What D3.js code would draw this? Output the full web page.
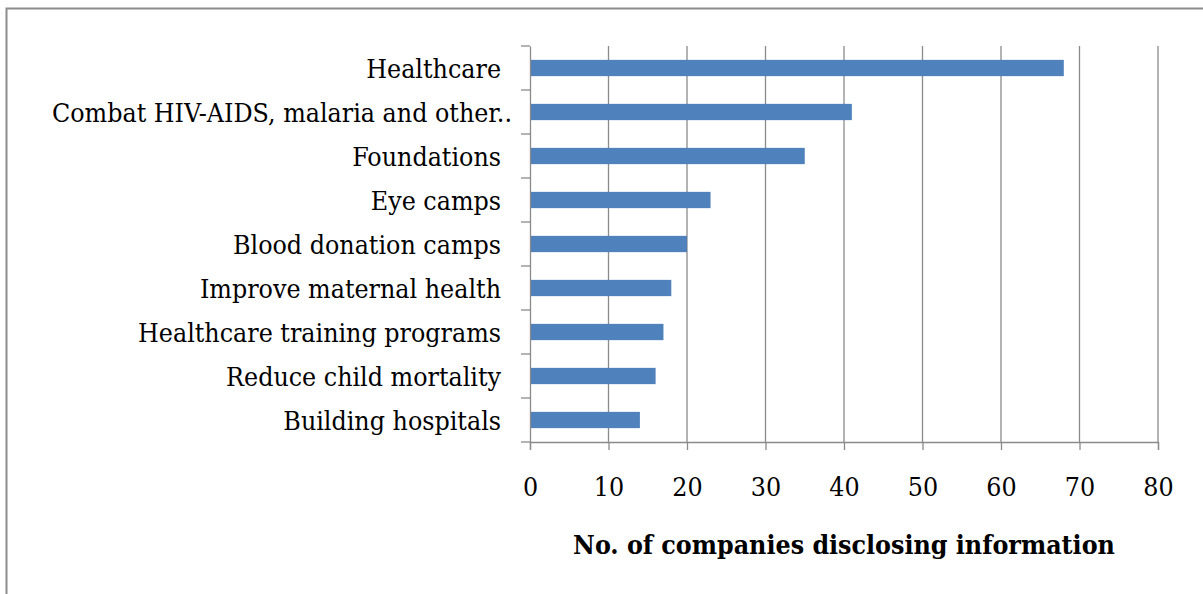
<!DOCTYPE html>
<html>
<head>
<meta charset="utf-8">
<script src="https://cdn.jsdelivr.net/npm/d3@7"></script>
<style>
  html, body { margin: 0; padding: 0; background: #fff; }
  svg { display: block; }
  text { font-family: "DejaVu Serif Condensed", "DejaVu Serif", serif; fill: #000; }
</style>
</head>
<body>
<svg id="chart" width="1203" height="594"></svg>
<script>
// Health-related disclosures
const categories = [
  "Healthcare",
  "Combat HIV-AIDS, malaria and other..",
  "Foundations",
  "Eye camps",
  "Blood donation camps",
  "Improve maternal health",
  "Healthcare training programs",
  "Reduce child mortality",
  "Building hospitals"
];
const companies = [68, 41, 35, 23, 20, 18, 17, 16, 14];
const xTicks = [0, 10, 20, 30, 40, 50, 60, 70, 80];
const xTitle = "No. of companies disclosing information";

const svg = d3.select("#chart");
const W = 1203, H = 594;
const margin = { left: 530, right: 45, top: 46, bottom: 152 };
const FONT = "DejaVu Serif Condensed";
const FS = 26.5;

// outer chart frame
svg.append("rect")
  .attr("x", 6.5).attr("y", 8.5)
  .attr("width", W + 10).attr("height", H + 10)
  .attr("fill", "none").attr("stroke", "#8c8c8c").attr("stroke-width", 2);

const x = d3.scaleLinear().domain([0, 80]).range([margin.left, W - margin.right]);
const y = d3.scaleBand().domain(categories)
  .range([margin.top, H - margin.bottom]).paddingInner(0.63).paddingOuter(0.315);
const yBand = d3.scaleBand().domain(categories).range([margin.top, H - margin.bottom]);

const y0 = margin.top, y1 = H - margin.bottom;

// vertical gridlines
svg.append("g").selectAll("line")
  .data(xTicks.slice(1))
  .join("line")
  .attr("x1", d => x(d)).attr("x2", d => x(d))
  .attr("y1", y0).attr("y2", y1)
  .attr("stroke", "#8a8a8a").attr("stroke-width", 1.3);

// bars
svg.append("g").selectAll("rect")
  .data(categories)
  .join("rect")
  .attr("x", x(0))
  .attr("y", d => y(d))
  .attr("width", (d, i) => x(companies[i]) - x(0))
  .attr("height", y.bandwidth())
  .attr("fill", "#4f81bd");

// category axis
const yAxis = svg.append("g")
  .attr("transform", `translate(${x(0)},0)`)
  .call(d3.axisLeft(yBand).tickSize(0).tickPadding(29));
yAxis.select(".domain").attr("stroke", "#8a8a8a").attr("stroke-width", 1.3);
yAxis.selectAll(".tick text")
  .attr("font-size", FS).attr("font-family", FONT).attr("dy", "0.36em")
  // truncated labels let their ellipsis hang past the alignment edge
  .attr("dx", d => d.endsWith("..") ? 11 : 0);
// ticks between categories
yAxis.append("g").selectAll("line")
  .data(d3.range(categories.length + 1))
  .join("line")
  .attr("x1", -9).attr("x2", 0)
  .attr("y1", i => y0 + i * yBand.step()).attr("y2", i => y0 + i * yBand.step())
  .attr("stroke", "#8a8a8a").attr("stroke-width", 1.3);

// value axis
const xAxis = svg.append("g")
  .attr("transform", `translate(0,${y1})`)
  .call(d3.axisBottom(x).tickValues(xTicks).tickSize(8).tickPadding(27));
xAxis.select(".domain").attr("stroke", "#8a8a8a").attr("stroke-width", 1.3);
xAxis.selectAll(".tick line").attr("stroke", "#8a8a8a").attr("stroke-width", 1.3);
xAxis.selectAll(".tick text")
  .attr("font-size", FS).attr("font-family", FONT);

// axis title
svg.append("text")
  .attr("x", (x(0) + x(80)) / 2)
  .attr("y", 554)
  .attr("text-anchor", "middle")
  .attr("font-family", FONT)
  .attr("font-size", FS).attr("font-weight", "bold")
  .text(xTitle);
</script>
</body>
</html>
